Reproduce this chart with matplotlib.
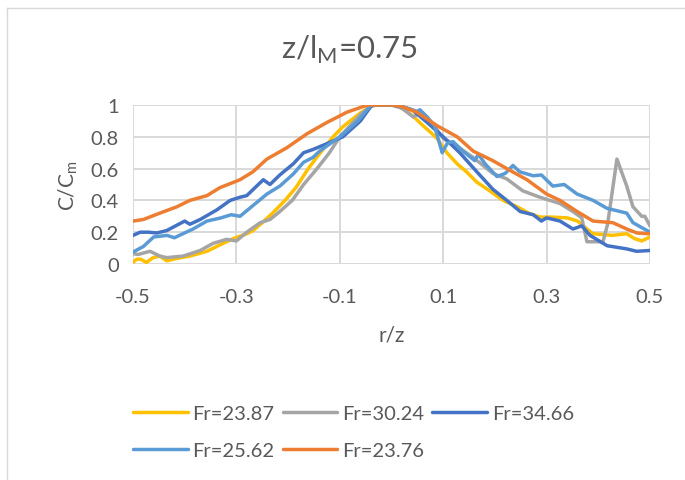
import matplotlib
matplotlib.use('Agg')
import matplotlib.pyplot as plt
from matplotlib.lines import Line2D

plt.rcParams['font.family'] = ['Lato', 'DejaVu Sans']
plt.rcParams['mathtext.fontset'] = 'custom'
plt.rcParams['mathtext.rm'] = 'Lato'

TXT = '#595959'
GRID = '#D9D9D9'

# ---- data ----
labels = ['Fr=23.87', 'Fr=30.24', 'Fr=34.66', 'Fr=25.62', 'Fr=23.76']
colors = ['#FFC000', '#A5A5A5', '#4472C4', '#5B9BD5', '#ED7D31']

x_y = [-0.5, -0.493, -0.485, -0.474, -0.461, -0.448, -0.435, -0.415, -0.39, -0.357, -0.332,
       -0.306, -0.28, -0.268, -0.25, -0.23, -0.206, -0.185, -0.161, -0.14, -0.113, -0.095,
       -0.08, -0.06, -0.045, -0.035, -0.01, 0.01, 0.03, 0.045, 0.061, 0.075, 0.088, 0.107,
       0.127, 0.145, 0.165, 0.19, 0.216, 0.243, 0.265, 0.287, 0.31, 0.34, 0.36, 0.378, 0.39,
       0.41, 0.428, 0.44, 0.455, 0.47, 0.484, 0.5]
y_y = [0.01, 0.03, 0.03, 0.01, 0.04, 0.05, 0.02, 0.035, 0.05, 0.08, 0.12,
       0.16, 0.19, 0.21, 0.26, 0.32, 0.40, 0.48, 0.60, 0.69, 0.80, 0.86,
       0.90, 0.95, 0.98, 1.0, 1.0, 1.0, 0.96, 0.92, 0.87, 0.83, 0.79, 0.70,
       0.63, 0.58, 0.515, 0.46, 0.40, 0.36, 0.32, 0.295, 0.295, 0.29, 0.27, 0.22, 0.19,
       0.185, 0.18, 0.185, 0.19, 0.16, 0.145, 0.17]

x_g = [-0.5, -0.49, -0.467, -0.448, -0.435, -0.403, -0.37, -0.345, -0.319, -0.3, -0.28,
       -0.254, -0.235, -0.216, -0.192, -0.17, -0.144, -0.12, -0.1, -0.08, -0.06, -0.04,
       -0.03, 0.0, 0.02, 0.042, 0.055, 0.08, 0.1, 0.127, 0.158, 0.196, 0.223, 0.254,
       0.287, 0.326, 0.351, 0.368, 0.378, 0.409, 0.418, 0.436, 0.455, 0.467, 0.484, 0.49, 0.5]
y_g = [0.065, 0.06, 0.08, 0.05, 0.04, 0.05, 0.085, 0.13, 0.155, 0.145, 0.20,
       0.26, 0.28, 0.33, 0.40, 0.50, 0.60, 0.70, 0.80, 0.87, 0.94, 0.99,
       1.0, 1.0, 0.98, 0.925, 0.95, 0.88, 0.79, 0.74, 0.67, 0.57, 0.535, 0.46,
       0.42, 0.38, 0.33, 0.29, 0.14, 0.14, 0.25, 0.66, 0.49, 0.36, 0.30, 0.30, 0.24]

x_db = [-0.5, -0.486, -0.47, -0.454, -0.435, -0.4, -0.39, -0.37, -0.338, -0.312, -0.293,
        -0.28, -0.248, -0.235, -0.216, -0.19, -0.17, -0.152, -0.13, -0.094, -0.06, -0.038,
        0.0, 0.02, 0.04, 0.069, 0.1, 0.132, 0.165, 0.196, 0.223, 0.249, 0.274, 0.29, 0.3,
        0.326, 0.351, 0.368, 0.384, 0.417, 0.455, 0.474, 0.5]
y_db = [0.18, 0.20, 0.20, 0.195, 0.21, 0.27, 0.25, 0.28, 0.34, 0.40, 0.42,
        0.43, 0.53, 0.50, 0.56, 0.63, 0.70, 0.72, 0.75, 0.80, 0.90, 1.0,
        1.0, 0.99, 0.97, 0.89, 0.80, 0.70, 0.58, 0.47, 0.40, 0.33, 0.31, 0.27, 0.29,
        0.27, 0.22, 0.24, 0.18, 0.115, 0.095, 0.08, 0.085]

x_lb = [-0.5, -0.48, -0.46, -0.434, -0.42, -0.384, -0.357, -0.33, -0.31, -0.293, -0.241,
        -0.216, -0.19, -0.17, -0.152, -0.139, -0.1, -0.065, -0.04, -0.02, 0.0, 0.02, 0.049,
        0.055, 0.069, 0.083, 0.098, 0.108, 0.119, 0.138, 0.161, 0.168, 0.181, 0.204, 0.22,
        0.235, 0.248, 0.274, 0.29, 0.312, 0.334, 0.359, 0.39, 0.417, 0.455, 0.467, 0.5]
y_lb = [0.075, 0.11, 0.17, 0.18, 0.165, 0.22, 0.27, 0.29, 0.31, 0.30, 0.44,
        0.49, 0.566, 0.64, 0.67, 0.71, 0.80, 0.90, 1.0, 1.0, 1.0, 0.99, 0.96,
        0.97, 0.925, 0.87, 0.70, 0.76, 0.77, 0.71, 0.65, 0.69, 0.63, 0.55, 0.57,
        0.62, 0.58, 0.555, 0.56, 0.49, 0.50, 0.44, 0.40, 0.35, 0.32, 0.26, 0.20]

x_o = [-0.5, -0.48, -0.448, -0.415, -0.39, -0.357, -0.332, -0.293, -0.268, -0.241, -0.203,
       -0.163, -0.125, -0.086, -0.055, -0.045, 0.003, 0.02, 0.049, 0.088, 0.127, 0.158,
       0.196, 0.223, 0.262, 0.30, 0.326, 0.359, 0.39, 0.428, 0.455, 0.475, 0.5]
y_o = [0.27, 0.28, 0.32, 0.36, 0.40, 0.43, 0.48, 0.53, 0.58, 0.66, 0.73,
       0.82, 0.89, 0.955, 0.99, 1.0, 1.0, 0.99, 0.955, 0.87, 0.80, 0.71,
       0.65, 0.60, 0.53, 0.44, 0.40, 0.33, 0.27, 0.26, 0.22, 0.195, 0.19]

series_x = [x_y, x_g, x_db, x_lb, x_o]
series_y = [y_y, y_g, y_db, y_lb, y_o]

xticks = [-0.5, -0.3, -0.1, 0.1, 0.3, 0.5]
xticklabels = ['-0.5', '-0.3', '-0.1', '0.1', '0.3', '0.5']
yticks = [0, 0.2, 0.4, 0.6, 0.8, 1.0]
yticklabels = ['0', '0.2', '0.4', '0.6', '0.8', '1']

# ---- figure ----
W, H = 685, 481
fig = plt.figure(figsize=(W / 100, H / 100), dpi=100)
ax = fig.add_axes([133 / W, 1 - 265 / H, 517 / W, 159 / H])

handles = []
for xs, ys, c, lab in zip(series_x, series_y, colors, labels):
    h, = ax.plot(xs, ys, color=c, lw=2.5, label=lab,
                 solid_capstyle='round', solid_joinstyle='round', zorder=3)
    handles.append(h)

ax.set_xlim(-0.5, 0.5)
ax.set_ylim(0, 1)
ax.set_xticks(xticks)
ax.set_xticklabels(xticklabels)
ax.set_yticks(yticks)
ax.set_yticklabels(yticklabels)
ax.tick_params(length=0, labelsize=14.5, colors=TXT)
ax.tick_params(axis='x', pad=17)
ax.tick_params(axis='y', pad=10)
ax.grid(True, color=GRID, lw=1.4, zorder=0)
for s in ax.spines.values():
    s.set_visible(False)
ax.set_axisbelow(True)

ax.set_xlabel('r/z', fontsize=15, color=TXT, labelpad=14)
ax.set_ylabel(r'C/C$_\mathregular{m}$', fontsize=15, color=TXT, labelpad=8)

fig.text(349 / W, 1 - 50 / H, r'z/l$_\mathregular{M}$=0.75', fontsize=22.5, color=TXT,
         ha='center', va='center')

order = [0, 3, 1, 4, 2]
leg = fig.legend([handles[i] for i in order], [labels[i] for i in order],
                 ncol=3, loc='upper left', bbox_to_anchor=(115 / W, 1 - 388 / H),
                 frameon=False, fontsize=14.5, handlelength=2.7, handletextpad=0.25,
                 columnspacing=0.4, labelspacing=1.0)
for t in leg.get_texts():
    t.set_color(TXT)

fig.add_artist(Line2D([7 / W, 7 / W], [0, 1 - 9 / H], transform=fig.transFigure,
                      color=GRID, lw=1))
fig.add_artist(Line2D([7 / W, 1], [1 - 9 / H, 1 - 9 / H], transform=fig.transFigure,
                      color=GRID, lw=1))

fig.savefig('out.png', dpi=100)
